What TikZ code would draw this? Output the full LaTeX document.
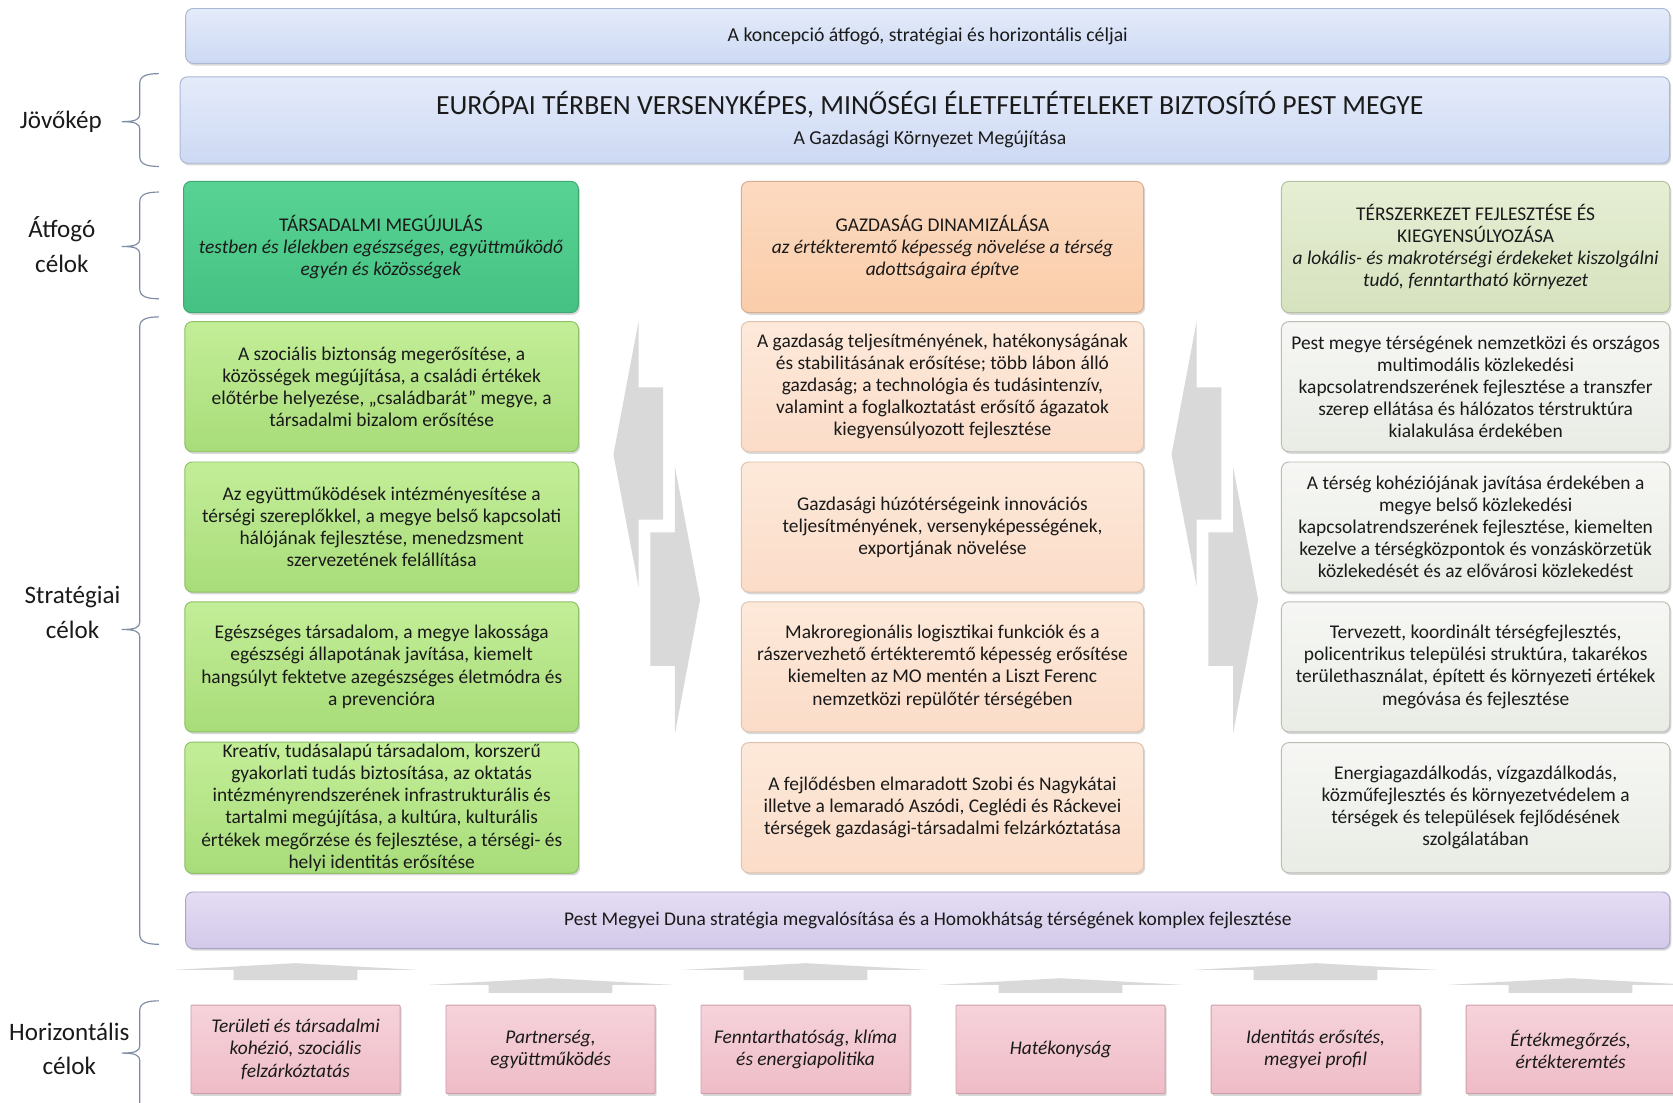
\documentclass[tikz,border=0pt]{standalone}
\usepackage{fontspec}
\setmainfont{Carlito}
\usetikzlibrary{shadows}
\definecolor{txt}{HTML}{1A1A1A}
\definecolor{blueT}{HTML}{E4EBFA}
\definecolor{blueB}{HTML}{CDD9F3}
\definecolor{blueD}{HTML}{AAB8D2}
\definecolor{g1T}{HTML}{58D394}
\definecolor{g1B}{HTML}{45C283}
\definecolor{g1D}{HTML}{3EA872}
\definecolor{g2T}{HTML}{C3EE98}
\definecolor{g2B}{HTML}{A8DC79}
\definecolor{g2D}{HTML}{8FBF66}
\definecolor{o1T}{HTML}{FCDAC0}
\definecolor{o1B}{HTML}{FACDAA}
\definecolor{o1D}{HTML}{D9AE90}
\definecolor{o2T}{HTML}{FDE9DA}
\definecolor{o2B}{HTML}{FBDCC8}
\definecolor{o2D}{HTML}{DEC2AE}
\definecolor{e1T}{HTML}{E6EED4}
\definecolor{e1B}{HTML}{D6E2BE}
\definecolor{e1D}{HTML}{B4C1A0}
\definecolor{w1T}{HTML}{F6F7F4}
\definecolor{w1B}{HTML}{E9ECE5}
\definecolor{w1D}{HTML}{B9BDB4}
\definecolor{pT}{HTML}{E4DDF3}
\definecolor{pB}{HTML}{D3C9EA}
\definecolor{pD}{HTML}{ADA3C8}
\definecolor{kT}{HTML}{F6D2DA}
\definecolor{kB}{HTML}{EEBCC7}
\definecolor{kD}{HTML}{CFA0AB}
\definecolor{arr}{HTML}{D9D9D9}
\definecolor{brk}{HTML}{7E8DA3}
\tikzset{
  base/.style={rounded corners=7pt, draw, line width=0.9pt, align=center, text=txt,
    font=\fontsize{18.2}{20.7}\selectfont, inner sep=2pt,
    drop shadow={shadow xshift=1.5pt, shadow yshift=-2pt, opacity=0.25, fill=black!60}},
  bluebar/.style={base, top color=blueT, bottom color=blueB, draw=blueD},
  gtop/.style={base, top color=g1T, bottom color=g1B, draw=g1D, minimum width=370pt, minimum height=123pt},
  gbox/.style={base, top color=g2T, bottom color=g2B, draw=g2D, minimum width=369pt, minimum height=122pt},
  otop/.style={base, top color=o1T, bottom color=o1B, draw=o1D, minimum width=377pt, minimum height=123pt},
  obox/.style={base, top color=o2T, bottom color=o2B, draw=o2D, minimum width=377pt, minimum height=122pt},
  etop/.style={base, top color=e1T, bottom color=e1B, draw=e1D, minimum width=364pt, minimum height=123pt},
  wbox/.style={base, top color=w1T, bottom color=w1B, draw=w1D, minimum width=364pt, minimum height=122pt},
  purplebar/.style={base, top color=pT, bottom color=pB, draw=pD},
  pinkbox/.style={base, rounded corners=1pt, top color=kT, bottom color=kB, draw=kD,
    minimum width=196pt, minimum height=83pt, font=\fontsize{18.2}{20.7}\selectfont\itshape},
  lbl/.style={align=center, text=txt, font=\fontsize{23.5}{32.5}\selectfont},
  plain/.style={align=center, text=txt, inner sep=0pt},
  brkline/.style={draw=brk, line width=1.1pt},
  grayarrow/.style={fill=arr, draw=none}
}
\newcommand\mybrace[3]{%
  \draw[brkline] (149,#1) .. controls (138,#1) and (131,#1+2) .. (131,#1+9)
    -- (131,#2-7) .. controls (131,#2-2) and (127,#2) .. (114,#2)
    .. controls (127,#2) and (131,#2+2) .. (131,#2+7)
    -- (131,#3-9) .. controls (131,#3-2) and (138,#3) .. (149,#3);}
\newcommand\sidearrows[1]{%
  \fill[grayarrow] (#1-17,301) -- (#1-17,363) -- (#1+6,363) -- (#1+6,487) -- (#1-17,487) -- (#1-17,550) -- (#1-40.6,426) -- cycle;
  \fill[grayarrow] (#1+17,437) -- (#1+17,499) -- (#1-6,499) -- (#1-6,624) -- (#1+17,624) -- (#1+17,688) -- (#1+40.6,562) -- cycle;}
\newcommand\bottomarrow[4]{% cx, apex, base, bottom
  \fill[grayarrow] (#1-114,#3) -- (#1,#2) -- (#1+114,#3) -- (#1+58,#3) -- (#1+58,#4) -- (#1-58,#4) -- (#1-58,#3) -- cycle;}
\begin{document}
\begin{tikzpicture}[x=1pt,y=-1pt]
\useasboundingbox[fill=white] (0,0) rectangle (1568,1033);

% side labels and braces
\node[lbl] (ljov) at (57,114) {Jövőkép};
\node[lbl] (latf) at (58,229) {Átfogó\\célok};
\node[lbl] (lstr) at (68,574) {Stratégiai\\célok};
\node[lbl] (lhor) at (65,983) {Horizontális\\célok};
\mybrace{69}{114}{156}
\mybrace{180}{231}{280}
\mybrace{297}{590}{885}
\mybrace{938}{987}{1080}

% top bars
\node[bluebar, minimum width=1391pt, minimum height=51.5pt, font=\fontsize{18.5}{21}\selectfont] (goal) at (869.5,33.7) {A koncepció átfogó, stratégiai és horizontális céljai};
\node[bluebar, minimum width=1396pt, minimum height=81pt] (vision) at (866.8,112.5) {};
\node[plain, font=\fontsize{26}{30}\selectfont] (vtitle) at (871.5,98) {EURÓPAI TÉRBEN VERSENYKÉPES, MINŐSÉGI ÉLETFELTÉTELEKET BIZTOSÍTÓ PEST MEGYE};
\node[plain, font=\fontsize{18.5}{21}\selectfont] (vsub) at (871.5,131) {A Gazdasági Környezet Megújítása};

% side arrows
\sidearrows{615.5}
\sidearrows{1138.6}

% column 1
\node[gtop] (t1) at (357,231.5) {TÁRSADALMI MEGÚJULÁS\\\textit{testben és lélekben egészséges, együttműködő}\\\textit{egyén és közösségek}};
\node[gbox] (s11) at (357.7,362.4) {A szociális biztonság megerősítése, a\\közösségek megújítása, a családi értékek\\előtérbe helyezése, „családbarát” megye, a\\társadalmi bizalom erősítése};
\node[gbox] (s12) at (357.7,494) {Az együttműködések intézményesítése a\\térségi szereplőkkel, a megye belső kapcsolati\\hálójának fejlesztése, menedzsment\\szervezetének felállítása};
\node[gbox] (s13) at (357.7,625) {Egészséges társadalom, a megye lakossága\\egészségi állapotának javítása, kiemelt\\hangsúlyt fektetve azegészséges életmódra és\\a prevencióra};
\node[gbox] (s14) at (357.7,757) {Kreatív, tudásalapú társadalom, korszerű\\gyakorlati tudás biztosítása, az oktatás\\intézményrendszerének infrastrukturális és\\tartalmi megújítása, a kultúra, kulturális\\értékek megőrzése és fejlesztése, a térségi- és\\helyi identitás erősítése};

% column 2
\node[otop] (t2) at (883.3,231.5) {GAZDASÁG DINAMIZÁLÁSA\\\textit{az értékteremtő képesség növelése a térség}\\\textit{adottságaira építve}};
\node[obox] (s21) at (883.3,362.4) {A gazdaság teljesítményének, hatékonyságának\\és stabilitásának erősítése; több lábon álló\\gazdaság; a technológia és tudásintenzív,\\valamint a foglalkoztatást erősítő ágazatok\\kiegyensúlyozott fejlesztése};
\node[obox] (s22) at (883.3,494) {Gazdasági húzótérségeink innovációs\\teljesítményének, versenyképességének,\\exportjának növelése};
\node[obox] (s23) at (883.3,625) {Makroregionális logisztikai funkciók és a\\rászervezhető értékteremtő képesség erősítése\\kiemelten az MO mentén a Liszt Ferenc\\nemzetközi repülőtér térségében};
\node[obox] (s24) at (883.3,757) {A fejlődésben elmaradott Szobi és Nagykátai\\illetve a lemaradó Aszódi, Ceglédi és Ráckevei\\térségek gazdasági-társadalmi felzárkóztatása};

% column 3
\node[etop] (t3) at (1383,231.5) {TÉRSZERKEZET FEJLESZTÉSE ÉS\\KIEGYENSÚLYOZÁSA\\\textit{a lokális- és makrotérségi érdekeket kiszolgálni}\\\textit{tudó, fenntartható környezet}};
\node[wbox] (s31) at (1383,362.4) {Pest megye térségének nemzetközi és országos\\multimodális közlekedési\\kapcsolatrendszerének fejlesztése a transzfer\\szerep ellátása és hálózatos térstruktúra\\kialakulása érdekében};
\node[wbox] (s32) at (1383,494) {A térség kohéziójának javítása érdekében a\\megye belső közlekedési\\kapcsolatrendszerének fejlesztése, kiemelten\\kezelve a térségközpontok és vonzáskörzetük\\közlekedését és az elővárosi közlekedést};
\node[wbox] (s33) at (1383,625) {Tervezett, koordinált térségfejlesztés,\\policentrikus települési struktúra, takarékos\\területhasználat, épített és környezeti értékek\\megóvása és fejlesztése};
\node[wbox] (s34) at (1383,757) {Energiagazdálkodás, vízgazdálkodás,\\közműfejlesztés és környezetvédelem a\\térségek és települések fejlődésének\\szolgálatában};

% purple bar
\node[purplebar, minimum width=1391pt, minimum height=53pt] (duna) at (869.5,862.5) {Pest Megyei Duna stratégia megvalósítása és a Homokhátság térségének komplex fejlesztése};

% bottom up arrows
\bottomarrow{277}{902.7}{909}{918.6}
\bottomarrow{516}{916.8}{923}{930.6}
\bottomarrow{755}{902.7}{909}{918.6}
\bottomarrow{994}{916.8}{923}{930.6}
\bottomarrow{1233}{902.7}{909}{918.6}
\bottomarrow{1472}{916.8}{923}{930.6}

% horizontal goals
\node[pinkbox] (h1) at (277,983.5) {Területi és társadalmi\\kohézió, szociális\\felzárkóztatás};
\node[pinkbox] (h2) at (516,983.5) {Partnerség,\\együttműködés};
\node[pinkbox] (h3) at (755,983.5) {Fenntarthatóság, klíma\\és energiapolitika};
\node[pinkbox] (h4) at (994,983.5) {Hatékonyság};
\node[pinkbox] (h5) at (1233,983.5) {Identitás erősítés,\\megyei profil};
\node[pinkbox] (h6) at (1472,983.5) {Értékmegőrzés,\\értékteremtés};
\end{tikzpicture}
\end{document}
